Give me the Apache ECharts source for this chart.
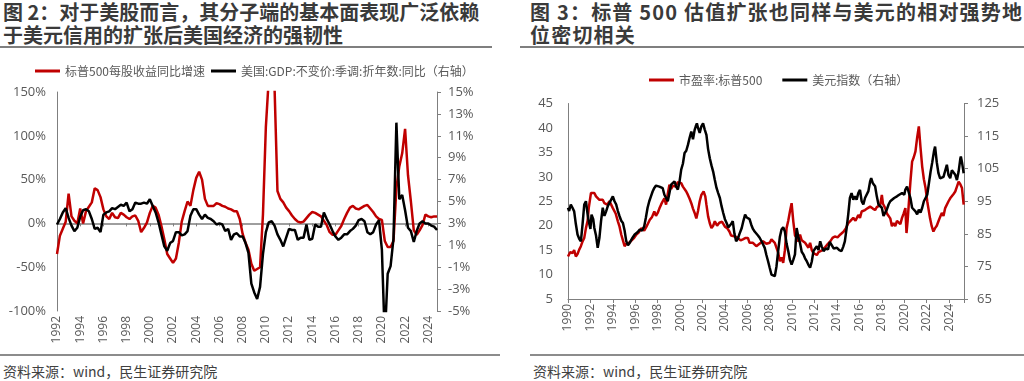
<!DOCTYPE html>
<html><head><meta charset="utf-8">
<script src="https://cdn.jsdelivr.net/npm/echarts@6/dist/echarts.min.js"></script>
<style>
body{margin:0;width:1024px;height:381px;background:#fff;position:relative;overflow:hidden;font-family:'Noto Sans CJK SC',sans-serif;}
.title{position:absolute;top:1px;font-size:20px;font-weight:bold;line-height:22.5px;color:#3a3a3a;white-space:nowrap;}
.rule{position:absolute;top:46px;height:2px;background:#7f7f7f;}
.src{position:absolute;top:361px;font-size:14px;color:#404040;white-space:nowrap;}
.sep{position:absolute;top:354px;height:1.5px;background:#8c8c8c;}
#c1{position:absolute;left:0;top:50px;width:512px;height:300px;}
#c2{position:absolute;left:512px;top:50px;width:512px;height:300px;}
</style></head>
<body>
<div class="title" style="left:3px;">图 2：对于美股而言，其分子端的基本面表现广泛依赖<br>于美元信用的扩张后美国经济的强韧性</div>
<div class="rule" style="left:0;width:492px;"></div>
<div class="title" style="left:530px;letter-spacing:1.2px;">图 3：标普 500 估值扩张也同样与美元的相对强势地<br>位密切相关</div>
<div class="rule" style="left:520px;width:504px;"></div>
<div id="c1"></div>
<div id="c2"></div>
<div class="sep" style="left:0;width:500px;"></div>
<div class="sep" style="left:530px;width:494px;"></div>
<div class="src" style="left:3px;">资料来源：wind，民生证券研究院</div>
<div class="src" style="left:533px;">资料来源：wind，民生证券研究院</div>
<script>
// ---------- Chart 2 data (quarterly, 1992Q1 - 2024Q4) ----------
const startYear = 1992, endYear = 2024;
const quarters = [];
for (let y = startYear; y <= endYear; y++) for (let q = 1; q <= 4; q++) quarters.push(y + 'Q' + q);
const epsNames = ['标普500每股收益同比增速', '美国:GDP:不变价:季调:折年数:同比（右轴）'];
const epsGrowth = [
 -35,-14,-6,2, 34,8,3,0, 17,0,14,19, 24,40,38,30, 16,8,5,12, 7,6,12,10, 7,5,8,9, 3,-10,-5,1,
 12,20,18,10, -3,-18,-35,-40, -45,-40,-22,2, 14,25,20,38, 52,59,50,28, 20,20,20,23, 22,20,19,17, 16,14,14,5,
 -12,-22,-30,-46, -54,-52,-50,10, 110,165,170,155, 37,28,24,18, 14,9,5,2, 1,2,6,10, 13,12,10,8,
 3,-2,-10,-13, -13,-8,-3,5, 12,18,20,17, 16,18,20,21, 17,13,8,5, 4,-20,-27,-27,
 -20,40,65,80, 108,55,25,-8, -13,-8,-2,10, 8,7,8,8
];
const gdpYoY = [
 2.9,3.4,4.0,4.4, 3.5,2.8,2.3,2.6, 3.6,4.2,4.3,4.1, 3.4,2.5,2.6,2.2, 3.8,4.0,4.1,4.4, 4.3,4.5,4.7,4.6,
 4.9,4.1,4.3,4.9, 4.8,4.8,4.9,4.8, 5.2,4.6,4.0,3.1, 2.0,0.9,0.5,1.2, 1.4,2.2,2.2,1.9, 2.0,2.3,3.7,4.3,
 4.3,3.8,3.4,3.8, 3.5,3.4,3.2,2.9, 3.0,2.9,2.3,2.5, 1.5,2.0,2.1,1.8, 1.8,1.2,0.3,-2.5, -3.3,-3.9,-2.8,0.2,
 2.2,3.1,3.2,2.8, 2.0,1.5,0.9,1.7, 2.5,2.4,2.4,1.5, 1.7,1.7,2.9,1.5, 1.6,2.9,2.7,2.7, 4.0,3.4,2.9,2.3,
 1.8,1.5,1.7,2.0, 2.0,2.3,2.5,2.8, 3.3,3.4,3.2,2.2, 2.0,2.2,2.9,3.3, 0.6,-7.5,-1.6,-0.9,
 1.6,12.2,5.2,5.6, 4.2,2.6,2.3,1.3, 2.3,3.0,3.2,3.0, 3.0,2.8,2.7,2.4
];
const leftTicks2 = {min: -100, max: 150, step: 50};
const rightTicks2 = {min: -5, max: 15, step: 2};

// ---------- Chart 3 data ([year, value]) ----------
const peNames = ['市盈率:标普500', '美元指数（右轴）'];
const spxPE = [
[1990.0,13.7],[1990.2,14.6],[1990.4,14.4],[1990.55,15.0],[1990.7,13.7],[1990.85,14.2],[1991.0,15.1],[1991.15,15.8],[1991.3,16.8],[1991.45,17.5],[1991.6,19.5],[1991.75,21.0],[1991.85,23.6],[1992.05,26.7],[1992.2,26.3],[1992.35,26.7],[1992.5,26.0],[1992.65,26.0],[1992.8,25.3],[1992.95,25.0],[1993.1,25.3],[1993.25,24.6],[1993.5,24.3],[1993.7,25.0],[1993.85,24.3],[1994.0,23.6],[1994.25,22.5],[1994.45,20.9],[1994.6,19.8],[1994.75,18.2],[1994.9,17.0],[1995.05,15.8],[1995.2,16.3],[1995.35,16.0],[1995.5,16.6],[1995.65,16.8],[1995.9,17.5],[1996.1,18.2],[1996.3,18.6],[1996.55,19.5],[1996.8,19.0],[1997.0,19.8],[1997.15,20.5],[1997.3,21.2],[1997.5,21.8],[1997.7,22.9],[1997.85,22.0],[1998.0,22.6],[1998.15,23.5],[1998.3,24.3],[1998.45,25.0],[1998.6,25.6],[1998.75,24.3],[1998.9,26.5],[1999.05,28.4],[1999.2,27.5],[1999.35,28.2],[1999.6,28.0],[1999.8,28.9],[2000.1,28.7],[2000.25,28.0],[2000.4,28.2],[2000.55,27.0],[2000.7,26.3],[2000.85,25.5],[2001.0,24.6],[2001.15,23.5],[2001.3,22.6],[2001.45,21.5],[2001.6,23.0],[2001.75,25.0],[2001.9,26.3],[2002.1,27.0],[2002.25,26.0],[2002.35,24.3],[2002.5,21.9],[2002.65,20.5],[2002.8,19.5],[2002.95,20.0],[2003.1,20.9],[2003.3,20.0],[2003.5,20.6],[2003.75,20.8],[2004.0,19.8],[2004.2,19.5],[2004.4,18.8],[2004.55,18.0],[2004.7,18.2],[2004.9,17.8],[2005.15,17.5],[2005.4,17.0],[2005.6,17.2],[2005.85,17.5],[2006.05,17.5],[2006.2,16.5],[2006.5,16.5],[2006.8,15.8],[2006.95,15.8],[2007.2,16.5],[2007.4,16.8],[2007.7,16.3],[2008.0,16.5],[2008.15,17.2],[2008.3,17.5],[2008.45,16.5],[2008.6,16.8],[2008.75,14.5],[2008.9,12.7],[2009.05,13.5],[2009.2,12.4],[2009.35,15.0],[2009.5,19.5],[2009.65,21.0],[2009.8,22.9],[2009.95,24.6],[2010.1,20.9],[2010.25,18.0],[2010.4,17.5],[2010.55,16.8],[2010.7,18.2],[2010.85,17.0],[2011.0,16.8],[2011.15,16.5],[2011.3,16.2],[2011.45,15.5],[2011.6,16.5],[2011.75,15.0],[2011.9,14.4],[2012.05,14.8],[2012.2,14.0],[2012.35,14.6],[2012.5,14.8],[2012.7,15.0],[2012.9,15.5],[2013.15,16.2],[2013.4,16.8],[2013.6,17.5],[2013.8,17.8],[2014.05,17.6],[2014.3,18.2],[2014.45,18.0],[2014.6,18.8],[2014.8,19.5],[2015.0,20.5],[2015.2,21.0],[2015.45,21.6],[2015.65,21.0],[2015.9,22.2],[2016.05,21.6],[2016.2,22.9],[2016.35,22.5],[2016.5,23.2],[2016.75,23.6],[2016.95,23.9],[2017.2,23.5],[2017.4,23.2],[2017.55,23.8],[2017.7,23.6],[2017.85,24.2],[2018.0,26.3],[2018.1,24.5],[2018.3,23.6],[2018.45,22.5],[2018.6,22.2],[2018.75,21.5],[2018.9,19.9],[2019.05,20.5],[2019.2,19.9],[2019.35,21.0],[2019.5,20.9],[2019.65,20.3],[2019.8,21.6],[2019.95,22.5],[2020.1,23.6],[2020.2,18.5],[2020.3,21.0],[2020.4,24.3],[2020.55,29.0],[2020.7,33.1],[2020.85,34.0],[2021.0,35.2],[2021.15,38.0],[2021.3,40.3],[2021.45,36.0],[2021.6,32.1],[2021.75,29.5],[2021.9,27.7],[2022.05,25.0],[2022.15,23.6],[2022.3,21.5],[2022.45,19.9],[2022.6,18.8],[2022.75,19.5],[2022.9,20.0],[2023.05,20.9],[2023.2,21.8],[2023.35,22.6],[2023.5,22.0],[2023.65,23.6],[2023.8,24.0],[2023.95,25.0],[2024.1,25.6],[2024.25,26.0],[2024.4,26.5],[2024.55,27.0],[2024.7,28.0],[2024.85,29.0],[2025.0,28.5],[2025.15,27.7],[2025.3,24.3]
];
const dxy = [
[1990.0,93.0],[1990.1,92.0],[1990.25,94.0],[1990.4,93.0],[1990.55,91.9],[1990.7,88.0],[1990.85,84.8],[1991.0,83.5],[1991.15,82.7],[1991.3,88.0],[1991.45,94.0],[1991.6,95.0],[1991.75,91.0],[1991.85,88.9],[1992.0,86.5],[1992.1,90.9],[1992.25,89.5],[1992.35,86.8],[1992.5,84.5],[1992.65,80.7],[1992.8,83.7],[1992.95,89.0],[1993.1,93.0],[1993.25,90.5],[1993.4,91.9],[1993.55,93.5],[1993.7,94.0],[1993.85,95.5],[1994.0,96.5],[1994.15,95.0],[1994.3,94.0],[1994.45,92.0],[1994.6,90.4],[1994.75,89.0],[1994.9,88.3],[1995.05,86.0],[1995.2,82.7],[1995.35,81.5],[1995.5,82.2],[1995.7,83.5],[1995.95,84.8],[1996.2,85.5],[1996.4,86.3],[1996.6,86.0],[1996.8,87.3],[1996.95,90.0],[1997.1,93.0],[1997.25,95.0],[1997.4,96.5],[1997.55,98.0],[1997.7,99.1],[1997.85,99.8],[1998.0,100.1],[1998.15,99.5],[1998.3,100.1],[1998.45,99.0],[1998.6,97.0],[1998.75,96.0],[1998.9,95.0],[1999.05,97.5],[1999.2,100.1],[1999.35,100.5],[1999.5,101.1],[1999.65,99.5],[1999.8,98.6],[1999.95,101.0],[2000.1,104.7],[2000.25,106.5],[2000.4,109.8],[2000.55,110.5],[2000.7,112.3],[2000.85,114.5],[2001.0,116.4],[2001.15,114.0],[2001.3,116.9],[2001.4,118.0],[2001.5,118.9],[2001.6,117.5],[2001.75,116.0],[2001.9,118.0],[2002.05,118.9],[2002.2,117.0],[2002.35,115.4],[2002.5,111.0],[2002.65,108.2],[2002.8,106.0],[2002.95,104.1],[2003.1,101.5],[2003.25,99.1],[2003.4,97.5],[2003.55,96.0],[2003.7,93.5],[2003.85,91.4],[2004.0,89.5],[2004.15,88.3],[2004.3,87.0],[2004.4,86.8],[2004.55,88.0],[2004.7,88.9],[2004.85,85.0],[2005.0,82.7],[2005.15,83.5],[2005.3,85.0],[2005.5,86.8],[2005.65,89.0],[2005.8,90.9],[2005.95,90.0],[2006.05,90.4],[2006.2,89.5],[2006.35,87.8],[2006.5,86.5],[2006.65,85.7],[2006.8,85.5],[2006.95,84.5],[2007.1,83.8],[2007.3,82.5],[2007.55,80.7],[2007.7,78.5],[2007.85,76.6],[2008.0,74.5],[2008.15,72.5],[2008.3,72.8],[2008.45,72.0],[2008.6,75.0],[2008.75,79.7],[2008.9,84.0],[2009.05,86.3],[2009.2,87.0],[2009.35,85.7],[2009.5,82.0],[2009.65,79.7],[2009.8,77.0],[2009.95,75.6],[2010.1,77.0],[2010.25,78.7],[2010.4,86.8],[2010.55,84.0],[2010.7,82.2],[2010.85,79.5],[2011.0,78.7],[2011.15,77.5],[2011.3,76.6],[2011.45,75.5],[2011.6,74.6],[2011.75,76.5],[2011.9,79.7],[2012.05,80.5],[2012.2,81.2],[2012.35,80.0],[2012.5,82.7],[2012.65,81.0],[2012.8,79.7],[2013.0,80.5],[2013.2,80.2],[2013.35,82.5],[2013.5,81.7],[2013.7,80.5],[2013.85,80.2],[2014.0,80.7],[2014.2,80.0],[2014.4,79.7],[2014.55,81.0],[2014.7,82.7],[2014.85,86.5],[2015.0,90.9],[2015.15,96.0],[2015.3,97.5],[2015.45,95.5],[2015.6,96.5],[2015.75,95.5],[2015.9,97.5],[2016.05,98.5],[2016.2,95.0],[2016.35,94.0],[2016.5,96.0],[2016.65,95.5],[2016.8,98.1],[2016.95,101.0],[2017.05,102.1],[2017.2,100.5],[2017.4,99.6],[2017.55,96.5],[2017.7,94.0],[2017.85,93.5],[2018.0,93.0],[2018.15,90.5],[2018.3,89.9],[2018.45,92.5],[2018.6,94.0],[2018.75,95.0],[2018.9,95.5],[2019.1,96.0],[2019.35,96.5],[2019.55,97.0],[2019.8,97.5],[2020.0,97.0],[2020.1,98.6],[2020.25,99.5],[2020.4,99.6],[2020.55,96.0],[2020.7,93.0],[2020.85,92.5],[2021.0,91.9],[2021.15,91.0],[2021.3,92.4],[2021.45,91.5],[2021.6,93.0],[2021.75,95.0],[2021.9,96.0],[2022.05,97.0],[2022.2,100.5],[2022.35,104.1],[2022.5,107.0],[2022.65,110.3],[2022.75,111.8],[2022.9,107.0],[2023.05,103.6],[2023.2,102.0],[2023.35,101.6],[2023.5,102.5],[2023.65,103.1],[2023.8,106.2],[2023.95,103.0],[2024.1,102.1],[2024.25,104.5],[2024.4,104.0],[2024.55,103.1],[2024.7,101.5],[2024.85,104.1],[2025.0,108.0],[2025.05,108.7],[2025.15,107.0],[2025.3,103.6]
];
const xRange3 = {min: 1990, max: 2025.33, step: 2};
const leftTicks3 = {min: 5, max: 45, step: 5};
const rightTicks3 = {min: 65, max: 125, step: 10};

// ---------- styling ----------
const FONT = "'Open Sans','Noto Sans CJK SC',sans-serif";
const FONT_CJK = "'Noto Sans CJK SC',sans-serif";
const RED = '#C00000', BLACK = '#000000', AX = '#7f7f7f', LBL = '#595959';
const lbl = (extra) => Object.assign({color: LBL, fontSize: 13, fontFamily: FONT}, extra || {});
const legendText = {color: LBL, fontSize: 12, fontFamily: FONT_CJK};

// Chart 2
const c1 = echarts.init(document.getElementById('c1'));
c1.setOption({
  animation: false,
  textStyle: {fontFamily: FONT},
  legend: {left: 30, top: 10, icon: 'rect', itemWidth: 25, itemHeight: 3, itemGap: 6,
    textStyle: legendText, data: epsNames},
  grid: {left: 57, right: 75, top: 42, bottom: 39},
  xAxis: [
    {type: 'category', data: quarters, boundaryGap: false, position: 'bottom',
     axisLine: {show: false, onZero: false}, axisTick: {show: false}, splitLine: {show: false},
     axisLabel: lbl({fontSize: 12, rotate: 90, margin: 5, interval: (i) => i % 8 === 0, formatter: (v) => v.slice(0, 4)})},
    {type: 'category', data: quarters, boundaryGap: false, position: 'bottom',
     axisLine: {show: true, onZero: true, onZeroAxisIndex: 0, lineStyle: {color: AX, width: 1.5}},
     axisTick: {show: true, length: 3, interval: (i) => i % 8 === 0, lineStyle: {color: AX}},
     axisLabel: {show: false}, splitLine: {show: false}}
  ],
  yAxis: [
    {type: 'value', min: leftTicks2.min, max: leftTicks2.max, interval: leftTicks2.step, position: 'left',
     axisLine: {show: true, lineStyle: {color: AX}}, axisTick: {show: false}, splitLine: {show: false},
     axisLabel: lbl({margin: 11, formatter: '{value}%'})},
    {type: 'value', min: rightTicks2.min, max: rightTicks2.max, position: 'right', show: false},
    {type: 'value', min: 0, max: rightTicks2.max - rightTicks2.min, interval: rightTicks2.step, position: 'right',
     axisLine: {show: true, lineStyle: {color: AX}}, axisTick: {show: true, length: 4, lineStyle: {color: AX}},
     splitLine: {show: false},
     axisLabel: lbl({margin: 11, formatter: (v) => (v + rightTicks2.min) + '%'})}
  ],
  series: [
    {name: epsNames[0], type: 'line', xAxisIndex: 0, yAxisIndex: 0, data: epsGrowth, symbol: 'none', clip: true,
     lineStyle: {color: RED, width: 2.5}, itemStyle: {color: RED}},
    {name: epsNames[1], type: 'line', xAxisIndex: 0, yAxisIndex: 1, data: gdpYoY, symbol: 'none', clip: true,
     lineStyle: {color: BLACK, width: 2.5}, itemStyle: {color: BLACK}}
  ]
});

// Chart 3
const c2 = echarts.init(document.getElementById('c2'));
c2.setOption({
  animation: false,
  textStyle: {fontFamily: FONT},
  legend: {left: 132, top: 19, icon: 'rect', itemWidth: 25, itemHeight: 3, itemGap: 20,
    textStyle: legendText, data: peNames},
  grid: {left: 56, right: 60, top: 53.5, bottom: 51},
  xAxis: {type: 'value', min: xRange3.min, max: xRange3.max, interval: xRange3.step,
    axisLine: {show: true, onZero: false, lineStyle: {color: AX}},
    axisTick: {show: true, length: 4, lineStyle: {color: AX}}, splitLine: {show: false},
    axisLabel: lbl({fontSize: 12, rotate: 90, margin: 5,
      formatter: (v) => (Number.isInteger(v) && v % 2 === 0) ? String(v) : ''})},
  yAxis: [
    {type: 'value', min: leftTicks3.min, max: leftTicks3.max, interval: leftTicks3.step, position: 'left',
     axisLine: {show: true, lineStyle: {color: AX}}, axisTick: {show: false}, splitLine: {show: false},
     axisLabel: lbl({margin: 15})},
    {type: 'value', min: rightTicks3.min, max: rightTicks3.max, position: 'right', show: false},
    {type: 'value', min: 0, max: rightTicks3.max - rightTicks3.min, interval: rightTicks3.step, position: 'right',
     axisLine: {show: true, lineStyle: {color: AX}}, axisTick: {show: true, length: 4, lineStyle: {color: AX}},
     splitLine: {show: false},
     axisLabel: lbl({margin: 13, formatter: (v) => String(v + rightTicks3.min)})}
  ],
  series: [
    {name: peNames[0], type: 'line', yAxisIndex: 0, data: spxPE, symbol: 'none', clip: true,
     lineStyle: {color: RED, width: 2.5}, itemStyle: {color: RED}},
    {name: peNames[1], type: 'line', yAxisIndex: 1, data: dxy, symbol: 'none', clip: true,
     lineStyle: {color: BLACK, width: 2.5}, itemStyle: {color: BLACK}}
  ]
});
</script>
</body></html>
